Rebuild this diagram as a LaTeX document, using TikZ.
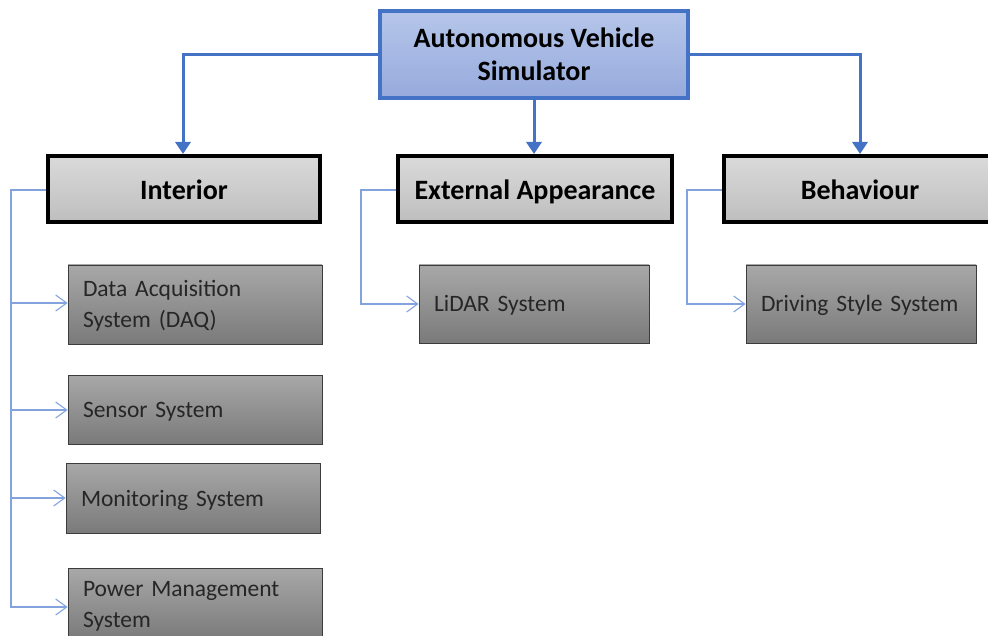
\documentclass[tikz,border=0pt]{standalone}
\usepackage{fontspec}
\setmainfont{Carlito}
\usetikzlibrary{arrows.meta}
\definecolor{mainblue}{RGB}{68,114,196}
\definecolor{thinblue}{RGB}{130,163,222}
\tikzset{
  topbox/.style={draw=mainblue, line width=4pt, top color={rgb,255:red,182;green,198;blue,234}, bottom color={rgb,255:red,150;green,170;blue,220}, align=center, font=\fontsize{28}{33}\selectfont\bfseries, inner sep=0pt},
  headbox/.style={draw=black, line width=4pt, top color={rgb,255:red,218;green,218;blue,218}, bottom color={rgb,255:red,190;green,190;blue,190}, font=\fontsize{28}{33}\selectfont\bfseries, inner sep=0pt, minimum height=66pt, text height=21pt, text depth=0pt},
  leafbox/.style={draw={rgb,255:red,60;green,60;blue,60}, line width=0.8pt, top color={rgb,255:red,168;green,168;blue,168}, bottom color={rgb,255:red,122;green,122;blue,122}, font=\fontsize{23.5}{31}\selectfont, align=left, inner xsep=15pt, inner ysep=0pt, text=black!85, text height=16pt, text depth=0pt},
  twoline/.style={text depth=31pt},
  mainarrow/.style={draw=mainblue, line width=3pt, -{Triangle[length=12pt,width=15pt]}},
  subarrow/.style={draw=thinblue, line width=1.1pt, -{Straight Barb[length=11pt,width=16pt,line width=1.1pt]}}
}
\begin{document}
\begin{tikzpicture}[x=1pt,y=-1pt]
\useasboundingbox (0,0) rectangle (988,636);
\clip (0,0) rectangle (988,636);
\node[topbox, minimum width=308pt, minimum height=87pt] (top) at (534,54.5) {Autonomous Vehicle\\Simulator};
\node[headbox, minimum width=272pt] (int) at (184,189) {Interior};
\node[headbox, minimum width=274pt] (ext) at (535,189) {External Appearance};
\node[headbox, minimum width=272pt] (beh) at (860,189) {Behaviour};

\node[leafbox, twoline, minimum height=79pt, text width=224pt] (daq) at (195,304.5) {Data Acquisition\\System (DAQ)};
\node[leafbox, minimum height=69pt, text width=224pt] (sen) at (195,409.5) {Sensor System};
\node[leafbox, minimum height=70pt, text width=224pt] (mon) at (193,498) {Monitoring System};
\node[leafbox, twoline, minimum height=72pt, text width=224pt] (pow) at (195,604) {Power Management\\System};
\node[leafbox, minimum height=78pt, text width=200pt] (lid) at (534,304) {LiDAR System};
\node[leafbox, minimum height=78pt, text width=200pt] (drv) at (861,304) {Driving Style System};

\draw[mainarrow] (top.west |- 0,55) -| (int.north -| 183,0);
\draw[mainarrow] (top.south) -- (int.north -| top.south);
\draw[mainarrow] (top.east |- 0,55) -| (beh.north -| 860,0);

\coordinate (ib) at (11,190);
\draw[subarrow] (int.west |- 0,190) -- (ib) |- (daq.west |- 0,303);
\draw[subarrow] (ib) |- (sen.west |- 0,410);
\draw[subarrow] (ib) |- (mon.west |- 0,498);
\draw[subarrow] (ib) |- (pow.west |- 0,607);
\coordinate (eb) at (361,190);
\draw[subarrow] (ext.west |- 0,190) -- (eb) |- (lid.west |- 0,304);
\coordinate (bb) at (687,190);
\draw[subarrow] (beh.west |- 0,190) -- (bb) |- (drv.west |- 0,304);
\end{tikzpicture}
\end{document}
